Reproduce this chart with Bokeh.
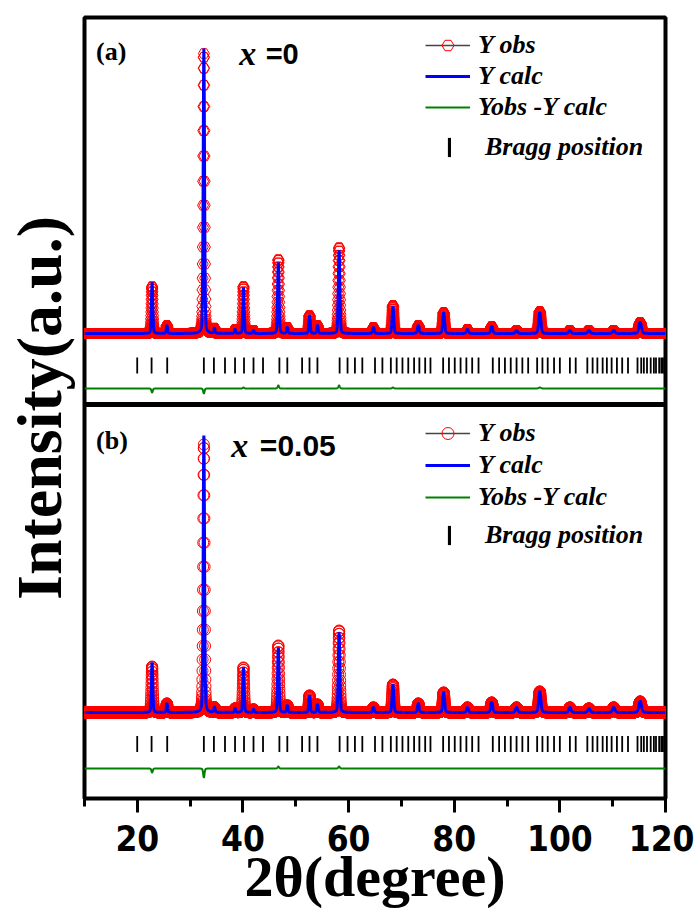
import numpy as np
from bokeh.plotting import figure
from bokeh.models import (Range1d, Span, Legend, LegendItem, Label,
                          SingleIntervalTicker, FixedTicker, ColumnDataSource)
from bokeh.embed import file_html
from bokeh.resources import INLINE

# ---------------- data ----------------
peak_pos = [22.8, 25.6, 32.6, 34.6, 38.5, 40.1, 42.0, 46.7, 48.4, 52.6, 54.1, 58.2,
            64.7, 68.4, 73.2, 78.0, 82.5, 87.1, 91.8, 96.2, 101.9, 105.5, 110.2, 115.2]
peak_fwhm = [0.30, 0.30, 0.30, 0.30, 0.30, 0.30, 0.30, 0.32, 0.32, 0.33, 0.33, 0.34,
             0.36, 0.37, 0.40, 0.42, 0.44, 0.46, 0.48, 0.50, 0.52, 0.54, 0.56, 0.60]
# panel (a): x = 0   (intensity, a.u.)
calc_a = [51, 8, 285, 5, 4, 46, 3, 71, 6, 18, 8, 83, 6, 27, 8, 21, 4, 7, 3, 21, 3, 3, 3, 11]
obs_a = [47, 8, 280, 5, 4, 47, 3, 74, 6, 18, 8, 86, 6, 28, 8, 21, 4, 7, 3, 22, 3, 3, 3, 11]
# panel (b): x = 0.05
calc_b = [50, 9, 277, 5, 4, 45, 3, 65, 7, 17, 8, 80, 5, 28, 9, 20, 5, 10, 5, 21, 5, 4, 5, 11]
obs_b = [46, 9, 268, 5, 4, 45, 3, 67, 7, 17, 8, 82, 5, 28, 9, 20, 5, 10, 5, 21, 5, 4, 5, 11]
bragg_positions = [19.98, 22.7, 25.66, 32.6, 34.5, 36.6, 38.5, 40.2, 42.0, 43.8, 46.9, 48.4,
                   51.2, 52.6, 54.1, 58.3, 59.8, 61.2, 62.6, 65.0, 66.4, 68.0, 69.1, 70.2,
                   71.3, 72.4, 73.4, 74.5, 75.5, 77.9, 79.0, 80.1, 81.2, 82.3, 83.4, 84.6,
                   87.3, 88.5, 89.6, 90.7, 91.8, 92.9, 94.0, 95.7, 96.7, 97.7, 98.9, 100.0,
                   101.9, 103.0, 105.2, 106.2, 107.1, 108.1, 108.9, 109.8, 110.8, 111.8,
                   112.9, 114.7, 115.4, 115.9, 116.5, 117.2, 117.8, 118.2, 118.8, 119.2,
                   119.5, 119.8]
x_ticks_interval = 20

# ---------------- profiles from read peak list ----------------
tt = np.arange(10.0, 120.0001, 0.02)


def profile(heights):
    y = np.zeros_like(tt)
    for c, h, w in zip(peak_pos, heights, peak_fwhm):
        d = (tt - c) / w
        y += h * (0.75 * np.exp(-4 * np.log(2) * d ** 2) + 0.25 / (1 + 4 * d ** 2))
    return y


# vertical layout offsets of the two stacked panels
BASE_A, BRAGG_A, DIFF_A = 465, 433, 410
SEP = 394
BASE_B, BRAGG_B, DIFF_B = 86, 54.5, 30
TICK_HALF = 8

p = figure(frame_width=581, frame_height=781, x_range=Range1d(10, 120),
           y_range=Range1d(0, 781), output_backend="svg", toolbar_location=None,
           min_border_left=84, min_border_right=29, min_border_top=17,
           min_border_bottom=110)
p.grid.visible = False
p.outline_line_color = "black"
p.outline_line_width = 4
p.background_fill_color = "white"
p.border_fill_color = "white"

font_serif = "Liberation Serif"


def panel(calc, obs, base, bragg_y, diff_y, marker):
    yc = profile(calc)
    yo = profile(obs)
    src = ColumnDataSource(dict(x=tt, obs=yo + base, calc=yc + base,
                                diff=(yo - yc) + diff_y))
    r_obs = p.scatter("x", "obs", source=src, marker=marker, size=11,
                      fill_color=None, line_color="red", line_width=1)
    r_calc = p.line("x", "calc", source=src, line_color="blue", line_width=3)
    r_diff = p.line("x", "diff", source=src, line_color="green", line_width=2)
    bsrc = ColumnDataSource(dict(x=bragg_positions,
                                 top=[bragg_y + TICK_HALF] * len(bragg_positions),
                                 bottom=[bragg_y - TICK_HALF] * len(bragg_positions)))
    r_bragg = p.vbar(x="x", top="top", bottom="bottom", width=0.34, source=bsrc,
                     fill_color="black", line_color=None)
    # legend-only helper line (grey line through the obs symbol)
    r_gray = p.line(x=[np.nan, np.nan], y=[np.nan, np.nan], line_color="#444444",
                    line_width=1.5)
    return r_obs, r_calc, r_diff, r_bragg, r_gray


ra = panel(calc_a, obs_a, BASE_A, BRAGG_A, DIFF_A, "hex")
rb = panel(calc_b, obs_b, BASE_B, BRAGG_B, DIFF_B, "circle")

p.add_layout(Span(location=SEP, dimension="width", line_color="black", line_width=5))


def add_legends(r, y_main, y_bragg, spacing):
    r_obs, r_calc, r_diff, r_bragg, r_gray = r
    common = dict(background_fill_alpha=0, border_line_alpha=0, padding=0, margin=0,
                  label_text_font=font_serif, label_text_font_style="bold italic",
                  label_text_font_size="26px", label_text_color="black")
    lg1 = Legend(items=[LegendItem(label="Y obs", renderers=[r_gray, r_obs]),
                        LegendItem(label="Y calc", renderers=[r_calc]),
                        LegendItem(label="Yobs -Y calc", renderers=[r_diff])],
                 location=(341, y_main), glyph_width=45, glyph_height=30,
                 label_height=30, spacing=spacing, label_standoff=8, **common)
    lg2 = Legend(items=[LegendItem(label="Bragg position", renderers=[r_bragg])],
                 location=(363, y_bragg), glyph_width=4, glyph_height=24,
                 label_height=30, label_standoff=34, **common)
    p.add_layout(lg1)
    p.add_layout(lg2)


add_legends(ra, 676, 636, 1)
add_legends(rb, 286, 248, 2)

# panel annotations
lab = dict(text_color="black", text_baseline="alphabetic")
p.add_layout(Label(x=12.2, y=747, text="(a)", text_font=font_serif, text_font_style="bold",
                   text_font_size="26px", **lab))
p.add_layout(Label(x=39.3, y=745, text="x", text_font=font_serif,
                   text_font_style="bold italic", text_font_size="34px", **lab))
p.add_layout(Label(x=44.3, y=745, text="=0", text_font="Liberation Sans",
                   text_font_style="bold", text_font_size="29px", **lab))
p.add_layout(Label(x=12.2, y=358, text="(b)", text_font=font_serif, text_font_style="bold",
                   text_font_size="26px", **lab))
p.add_layout(Label(x=37.8, y=353, text="x", text_font=font_serif,
                   text_font_style="bold italic", text_font_size="34px", **lab))
p.add_layout(Label(x=43.2, y=353, text="=0.05", text_font="Liberation Sans",
                   text_font_style="bold", text_font_size="30px", **lab))

# axes
xa = p.xaxis[0]
xa.ticker = SingleIntervalTicker(interval=x_ticks_interval, num_minor_ticks=2)
xa.major_tick_out = 14
xa.major_tick_in = 0
xa.minor_tick_out = 8
xa.minor_tick_in = 0
xa.major_tick_line_width = 3
xa.minor_tick_line_width = 3
xa.axis_line_width = 3
xa.major_label_text_font = "'Liberation Sans Narrow', 'DejaVu Sans Condensed', 'Liberation Sans', sans-serif"
xa.major_label_text_font_style = "bold"
xa.major_label_text_font_size = "35px"
xa.major_label_text_color = "black"
xa.major_label_standoff = 12
xa.axis_label = "2θ(degree)"
xa.axis_label_text_font = font_serif
xa.axis_label_text_font_style = "bold"
xa.axis_label_text_font_size = "58px"
xa.axis_label_text_color = "black"
xa.axis_label_standoff = -10

ya = p.yaxis[0]
ya.ticker = FixedTicker(ticks=[])
ya.major_tick_line_color = None
ya.minor_tick_line_color = None
ya.axis_line_color = None
ya.major_label_text_font_size = "0px"
ya.axis_label = "Intensity(a.u.)"
ya.axis_label_text_font = font_serif
ya.axis_label_text_font_style = "bold"
ya.axis_label_text_font_size = "64px"
ya.axis_label_text_color = "black"
ya.axis_label_standoff = 10

open("out.html", "w").write(file_html(p, INLINE))
